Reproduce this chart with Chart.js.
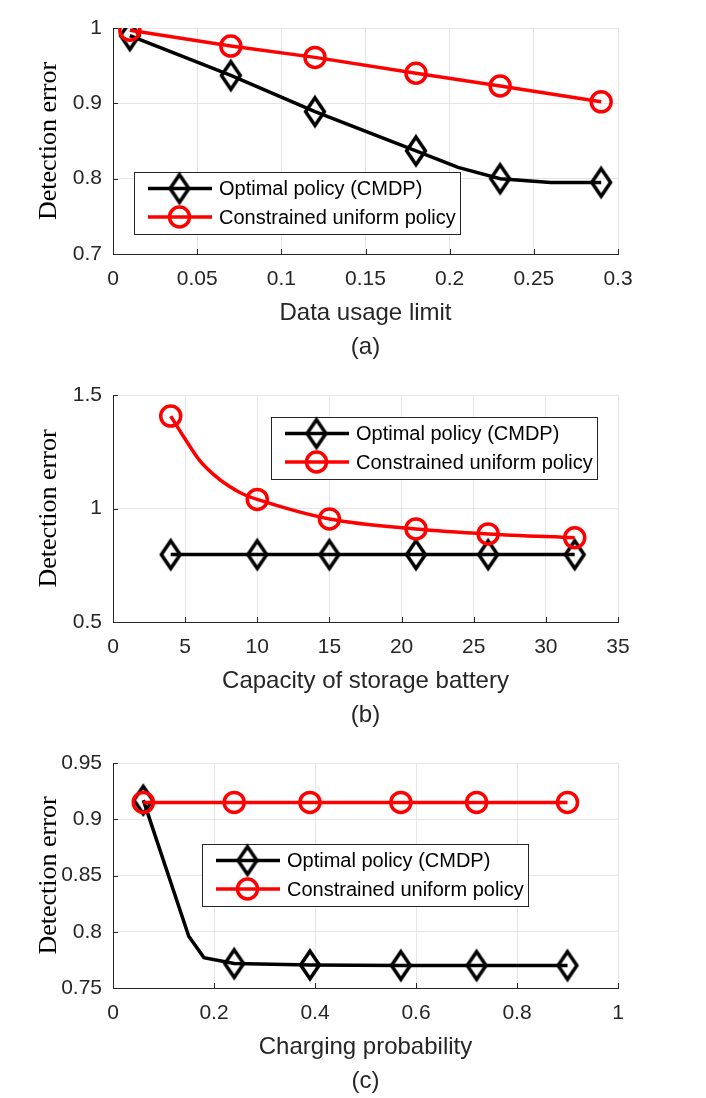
<!DOCTYPE html>
<html>
<head>
<meta charset="utf-8">
<script src="https://cdn.jsdelivr.net/npm/chart.js@4.4.0/dist/chart.umd.min.js"></script>
<style>
  html, body { margin: 0; padding: 0; background: #fff; overflow: hidden; }
  body { width: 706px; height: 1098px; position: relative; }
  .panel { position: absolute; left: 0; width: 706px; }
</style>
</head>
<body>
<div class="panel" style="top:0px;height:366px"><canvas id="chartA"></canvas></div>
<div class="panel" style="top:367px;height:367px"><canvas id="chartB"></canvas></div>
<div class="panel" style="top:735px;height:365px"><canvas id="chartC"></canvas></div>
<script>
// ---- data ----
const seriesNames = ['Optimal policy (CMDP)', 'Constrained uniform policy'];

// (a) data usage limit
const usageLimit = [0.01, 0.07, 0.12, 0.18, 0.23, 0.29];
const usageOptimal = [0.990, 0.937, 0.889, 0.837, 0.800, 0.795];
const usageUniform = [0.997, 0.976, 0.961, 0.940, 0.923, 0.902];
const usageOptimalBendX = [0.205, 0.26];   // unmarked vertices of the black curve
const usageOptimalBendY = [0.815, 0.795];
const usageXTicks = [0, 0.05, 0.1, 0.15, 0.2, 0.25, 0.3];
const usageXLabels = ['0', '0.05', '0.1', '0.15', '0.2', '0.25', '0.3'];
const usageYTicks = [0.7, 0.8, 0.9, 1];
const usageYLabels = ['0.7', '0.8', '0.9', '1'];

// (b) capacity of storage battery
const capacity = [4, 10, 15, 21, 26, 32];
const capacityOptimal = [0.797, 0.797, 0.797, 0.797, 0.797, 0.797];
const capacityUniform = [1.407, 1.040, 0.954, 0.910, 0.888, 0.871];
const capacityUniformBendX = [5, 6, 7, 8, 9];   // unmarked vertices of the red curve
const capacityUniformBendY = [1.306, 1.212, 1.148, 1.100, 1.064];
const capacityXTicks = [0, 5, 10, 15, 20, 25, 30, 35];
const capacityXLabels = ['0', '5', '10', '15', '20', '25', '30', '35'];
const capacityYTicks = [0.5, 1, 1.5];
const capacityYLabels = ['0.5', '1', '1.5'];

// (c) charging probability
const chargeProb = [0.06, 0.24, 0.39, 0.57, 0.72, 0.9];
const chargeOptimal = [0.917, 0.7717, 0.7705, 0.770, 0.770, 0.770];
const chargeUniform = [0.915, 0.915, 0.915, 0.915, 0.915, 0.915];
const chargeOptimalBendX = [0.15, 0.18];   // unmarked vertices of the black curve
const chargeOptimalBendY = [0.796, 0.777];
const chargeXTicks = [0, 0.2, 0.4, 0.6, 0.8, 1];
const chargeXLabels = ['0', '0.2', '0.4', '0.6', '0.8', '1'];
const chargeYTicks = [0.75, 0.8, 0.85, 0.9, 0.95];
const chargeYLabels = ['0.75', '0.8', '0.85', '0.9', '0.95'];

// ---- styling ----
const INK = '#262626';
const GRID = '#e6e6e6';
const SANS = '"Liberation Sans", Arial, sans-serif';
const SERIF = '"Liberation Serif", "Times New Roman", serif';

function diamondImage() {
  const c = document.createElement('canvas');
  c.width = 28; c.height = 38;
  const g = c.getContext('2d');
  g.lineWidth = 3.5; g.strokeStyle = '#000'; g.lineJoin = 'miter';
  g.beginPath();
  g.moveTo(14, 5.2); g.lineTo(23.4, 19); g.lineTo(14, 32.8); g.lineTo(4.6, 19);
  g.closePath(); g.stroke();
  return c;
}
const DIAMOND = diamondImage();

// merge marked and unmarked vertices of one plotted curve
function curve(xs, ys, bendX, bendY) {
  const pts = xs.map((x, i) => ({ x: x, y: ys[i], mark: true }));
  (bendX || []).forEach((x, i) => pts.push({ x: x, y: bendY[i], mark: false }));
  return pts.sort((a, b) => a.x - b.x);
}

function optimalSet(points) {
  return {
    label: seriesNames[0], data: points, marker: 'diamond', order: 1,
    borderColor: '#000', borderWidth: 3.5, tension: 0,
    pointStyle: DIAMOND, pointRadius: c => (c.raw && c.raw.mark ? 10 : 0)
  };
}
function uniformSet(points, smooth) {
  return {
    label: seriesNames[1], data: points, marker: 'circle', order: 0,
    borderColor: '#ff0000', borderWidth: 3.5,
    cubicInterpolationMode: smooth ? 'monotone' : 'default', tension: 0,
    pointStyle: 'circle', pointBorderColor: '#ff0000', pointBorderWidth: 3.5,
    pointBackgroundColor: 'rgba(0,0,0,0)',
    pointRadius: c => (c.raw && c.raw.mark ? 10 : 0)
  };
}

const boxLegend = {
  id: 'boxLegend',
  afterDraw(chart, args, opts) {
    const { ctx, chartArea } = chart;
    const x0 = Math.round(chartArea.left + opts.left), y0 = Math.round(chartArea.top + opts.top);
    const w = 326, h = 62;
    ctx.save();
    ctx.fillStyle = '#fff';
    ctx.fillRect(x0, y0, w, h);
    ctx.strokeStyle = INK; ctx.lineWidth = 1;
    ctx.strokeRect(x0 + 0.5, y0 + 0.5, w, h);
    chart.data.datasets.forEach((ds, i) => {
      const y = y0 + 16.5 + i * 28.5;
      ctx.strokeStyle = ds.borderColor; ctx.lineWidth = ds.borderWidth;
      ctx.beginPath(); ctx.moveTo(x0 + 14, y); ctx.lineTo(x0 + 78, y); ctx.stroke();
      if (ds.marker === 'diamond') {
        ctx.drawImage(DIAMOND, x0 + 45.5 - DIAMOND.width / 2, y - DIAMOND.height / 2);
      } else {
        ctx.beginPath(); ctx.arc(x0 + 45.5, y, 10, 0, Math.PI * 2);
        ctx.lineWidth = 3.5; ctx.strokeStyle = ds.borderColor; ctx.stroke();
      }
      ctx.fillStyle = '#000';
      ctx.font = '20px ' + SANS;
      ctx.textBaseline = 'middle'; ctx.textAlign = 'left';
      ctx.fillText(ds.label, x0 + 85, y + 1);
    });
    ctx.restore();
  }
};

const inwardTicks = {
  id: 'inwardTicks',
  beforeDatasetsDraw(chart) {
    const { ctx, chartArea: a, scales } = chart;
    ctx.save();
    ctx.strokeStyle = INK; ctx.lineWidth = 1;
    ctx.beginPath();
    scales.x.ticks.forEach(t => {
      const px = Math.round(scales.x.getPixelForValue(t.value)) + 0.5;
      ctx.moveTo(px, a.bottom); ctx.lineTo(px, a.bottom - 5);
    });
    scales.y.ticks.forEach(t => {
      const py = Math.round(scales.y.getPixelForValue(t.value)) + 0.5;
      ctx.moveTo(a.left, py); ctx.lineTo(a.left + 5, py);
    });
    ctx.stroke();
    ctx.restore();
  }
};

function makeChart(id, cfg) {
  new Chart(document.getElementById(id), {
    type: 'line',
    data: { datasets: cfg.datasets },
    options: {
      responsive: true, maintainAspectRatio: false, animation: false, events: [],
      layout: { padding: { top: 28, right: 88, bottom: 0, left: 0 } },
      plugins: { legend: { display: false }, tooltip: { enabled: false }, boxLegend: cfg.legend },
      scales: {
        x: {
          type: 'linear', min: cfg.xTicks[0], max: cfg.xTicks[cfg.xTicks.length - 1],
          afterBuildTicks: s => { s.ticks = cfg.xTicks.map(v => ({ value: v })); },
          afterFit: s => { s.height = 112; },
          ticks: { autoSkip: false, maxRotation: 0, padding: 13, color: INK,
                   font: { family: SANS, size: 21 }, callback: (v, i) => cfg.xLabels[i] },
          grid: { color: GRID, drawTicks: false },
          border: { color: INK, width: 1 },
          title: { display: true, text: [cfg.xTitle, cfg.caption], color: INK,
                   font: { family: SANS, size: 24, lineHeight: '34px' },
                   padding: { top: 0, bottom: 2 } }
        },
        y: {
          type: 'linear', min: cfg.yTicks[0], max: cfg.yTicks[cfg.yTicks.length - 1],
          afterBuildTicks: s => { s.ticks = cfg.yTicks.map(v => ({ value: v })); },
          afterFit: s => { s.width = 113; },
          ticks: { autoSkip: false, padding: 11, color: INK,
                   font: { family: SANS, size: 21 }, callback: (v, i) => cfg.yLabels[i] },
          grid: { color: GRID, drawTicks: false },
          border: { color: INK, width: 1 },
          title: { display: true, text: 'Detection error', color: '#000',
                   font: { family: SERIF, size: 26 }, padding: { top: 34, bottom: 0 } }
        }
      }
    },
    plugins: [inwardTicks, boxLegend]
  });
}

makeChart('chartA', {
  datasets: [
    optimalSet(curve(usageLimit, usageOptimal, usageOptimalBendX, usageOptimalBendY)),
    uniformSet(curve(usageLimit, usageUniform), false)
  ],
  xTicks: usageXTicks, xLabels: usageXLabels, yTicks: usageYTicks, yLabels: usageYLabels,
  xTitle: 'Data usage limit', caption: '(a)', legend: { left: 21, top: 143.5 }
});

makeChart('chartB', {
  datasets: [
    optimalSet(curve(capacity, capacityOptimal)),
    uniformSet(curve(capacity, capacityUniform, capacityUniformBendX, capacityUniformBendY), true)
  ],
  xTicks: capacityXTicks, xLabels: capacityXLabels, yTicks: capacityYTicks, yLabels: capacityYLabels,
  xTitle: 'Capacity of storage battery', caption: '(b)', legend: { left: 158, top: 21.7 }
});

makeChart('chartC', {
  datasets: [
    optimalSet(curve(chargeProb, chargeOptimal, chargeOptimalBendX, chargeOptimalBendY)),
    uniformSet(curve(chargeProb, chargeUniform), false)
  ],
  xTicks: chargeXTicks, xLabels: chargeXLabels, yTicks: chargeYTicks, yLabels: chargeYLabels,
  xTitle: 'Charging probability', caption: '(c)', legend: { left: 89.4, top: 81 }
});
</script>
</body>
</html>
